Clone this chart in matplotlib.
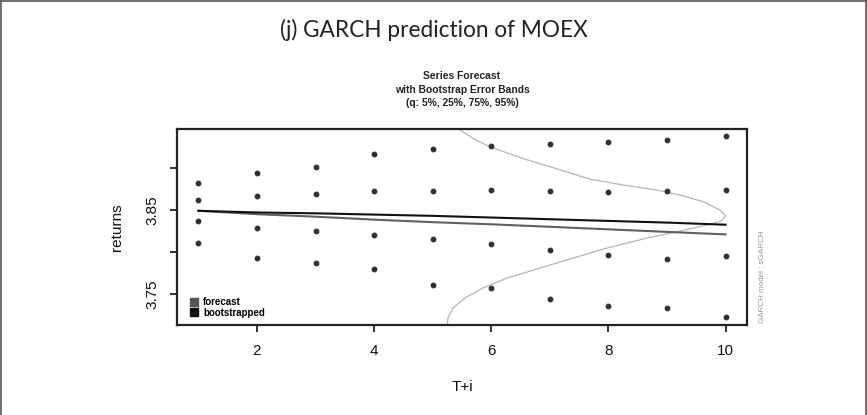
import matplotlib.pyplot as plt
from matplotlib.lines import Line2D

# forecast horizon
horizon = [1, 2, 3, 4, 5, 6, 7, 8, 9, 10]

# bootstrap quantiles of the series forecast
q95 = [3.882, 3.894, 3.901, 3.916, 3.922, 3.926, 3.928, 3.931, 3.933, 3.938]
q75 = [3.862, 3.866, 3.869, 3.873, 3.872, 3.874, 3.873, 3.871, 3.872, 3.874]
q25 = [3.837, 3.829, 3.825, 3.820, 3.815, 3.810, 3.803, 3.796, 3.792, 3.795]
q05 = [3.811, 3.793, 3.787, 3.780, 3.761, 3.758, 3.744, 3.736, 3.734, 3.723]

forecast = [3.849, 3.845, 3.842, 3.8385, 3.8355, 3.833, 3.830, 3.827, 3.824, 3.821]
bootstrapped = [3.849, 3.847, 3.846, 3.8445, 3.843, 3.841, 3.839, 3.837, 3.835, 3.8325]

# density of the bootstrapped T+10 forecast, drawn sideways
dens_ret = [3.9466, 3.9348, 3.9248, 3.911, 3.899, 3.8866, 3.8796, 3.8736, 3.8677,
            3.8598, 3.850, 3.843, 3.837, 3.832, 3.825, 3.8165, 3.8047, 3.793,
            3.781, 3.769, 3.7575, 3.7456, 3.734, 3.722, 3.714]
dens_x = [5.43, 5.69, 5.975, 6.54, 7.11, 7.68, 8.25, 8.82, 9.22,
          9.62, 9.90, 10.0, 9.93, 9.68, 9.22, 8.65, 7.97, 7.40,
          6.83, 6.26, 5.86, 5.55, 5.35, 5.26, 5.25]

plt.rcParams['font.family'] = ['Liberation Sans', 'DejaVu Sans']

fig = plt.figure(figsize=(8.67, 4.15), dpi=100)

# outer frame of the panel
frame = dict(color='#555555', lw=1.2, transform=fig.transFigure)
fig.add_artist(Line2D([0.001, 0.999], [0.998, 0.998], **frame))
fig.add_artist(Line2D([0.001, 0.001], [0.0, 0.998], **frame))
fig.add_artist(Line2D([0.999, 0.999], [0.0, 0.998], **frame))

fig.text(0.5, 0.928, '(j) GARCH prediction of MOEX', ha='center', va='center',
         fontsize=16.3, family=['Lato', 'DejaVu Sans'], color='#222222')

ax = fig.add_axes([0.2045, 0.2157, 0.6567, 0.4735])

ax.plot(dens_x, dens_ret, color='#b5b5b5', lw=0.9, zorder=1)
ax.plot(horizon, forecast, color='#606060', lw=1.5, zorder=2)
ax.plot(horizon, bootstrapped, color='#111111', lw=1.5, zorder=3)
for q in (q95, q75, q25, q05):
    ax.plot(horizon, q, ls='none', marker='o', ms=3.2, color='#333333', zorder=4)

ax.set_xlim(0.64, 10.36)
ax.set_ylim(3.713, 3.946)

ax.set_xticks([2, 4, 6, 8, 10])
ax.set_yticks([3.75, 3.80, 3.85, 3.90])
ax.set_yticklabels(['3.75', '', '3.85', ''], rotation=90, va='center')
ax.tick_params(direction='out', length=5, width=1.2, labelsize=11,
               colors='#111111', pad=8)
for s in ax.spines.values():
    s.set_linewidth(1.6)
    s.set_color('#222222')

ax.set_xlabel('T+i', fontsize=11, labelpad=16, color='#111111')
ax.set_ylabel('returns', fontsize=11, labelpad=15, color='#111111')

ax.text(0.5, 1.105, 'Series Forecast\nwith Bootstrap Error Bands\n(q: 5%, 25%, 75%, 95%)',
        transform=ax.transAxes, ha='center', va='bottom', fontsize=7.4,
        fontweight='bold', linespacing=1.45, color='#222222')

ax.text(1.028, 0.25, 'GARCH model : sGARCH', transform=ax.transAxes,
        rotation=90, ha='center', va='center', fontsize=5.8, color='#999999')

handles = [Line2D([], [], ls='none', marker='s', ms=6, color='#555555'),
           Line2D([], [], ls='none', marker='s', ms=6, color='#111111')]
ax.legend(handles, ['forecast', 'bootstrapped'], loc='lower left', frameon=False,
          prop={'size': 7, 'weight': 'bold'}, handlelength=0.8, handletextpad=0.6,
          labelspacing=0.05, borderaxespad=0.4, borderpad=0.4,
          bbox_to_anchor=(0.008, 0.0))

fig.savefig('out.png', dpi=100)
